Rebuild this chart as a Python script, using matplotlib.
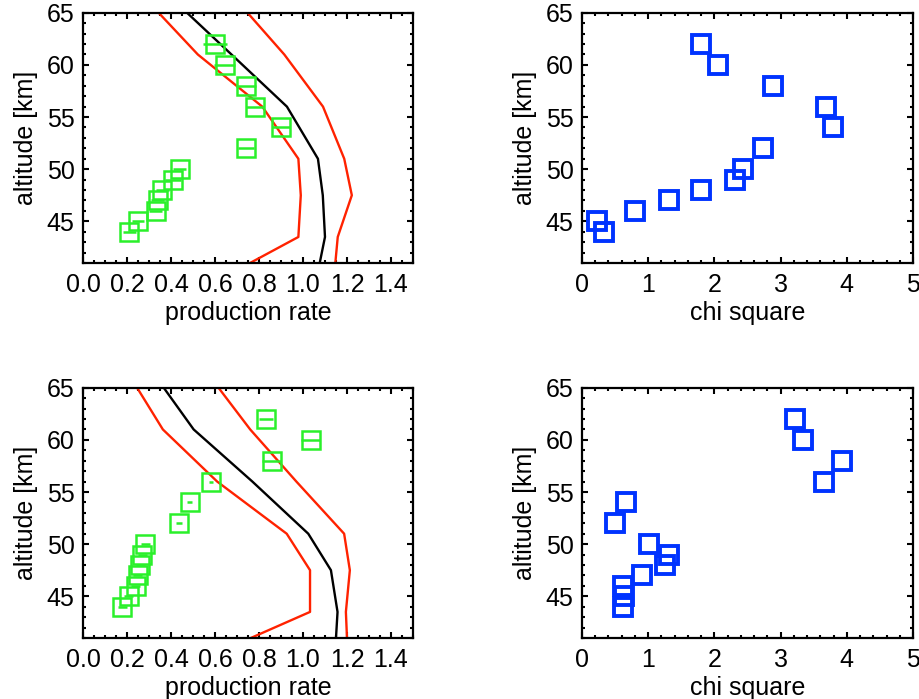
import matplotlib
matplotlib.use("Agg")
import matplotlib.pyplot as plt
from matplotlib.ticker import MultipleLocator
import numpy as np

plt.rcParams['font.family'] = ['Liberation Sans', 'DejaVu Sans']
plt.rcParams['font.size'] = 18

# altitudes of the retrieval points [km]
alt = [44, 45, 46, 47, 48, 49, 50, 52, 54, 56, 58, 60, 62]

# model grid for the profile lines
alt_mod = [41, 43.5, 47.5, 51, 56, 61, 65]

# ---- top row
prod_top = [0.21, 0.25, 0.33, 0.34, 0.36, 0.41, 0.44, 0.74, 0.90, 0.78, 0.74, 0.644, 0.60]
err_top = [0.03, 0.026, 0.03, 0.03, 0.03, 0.035, 0.03, 0.036, 0.043, 0.041, 0.046, 0.048, 0.056]
mod_top = [1.076, 1.10, 1.09, 1.068, 0.927, 0.675, 0.473]
low_top = [0.759, 0.979, 0.99, 0.979, 0.815, 0.522, 0.344]
high_top = [1.147, 1.158, 1.222, 1.1875, 1.091, 0.915, 0.748]
chi_top = [0.33, 0.22, 0.80, 1.31, 1.80, 2.31, 2.43, 2.73, 3.79, 3.69, 2.89, 2.05, 1.80]

# ---- bottom row
prod_bot = [0.178, 0.208, 0.239, 0.249, 0.261, 0.269, 0.284, 0.435, 0.485, 0.582, 0.858, 1.036, 0.831]
err_bot = [0.02, 0.02, 0.02, 0.02, 0.02, 0.02, 0.02, 0.013, 0.011, 0.01, 0.043, 0.043, 0.032]
mod_bot = [1.15, 1.157, 1.127, 1.024, 0.77, 0.503, 0.367]
low_bot = [0.763, 1.032, 1.032, 0.926, 0.61, 0.363, 0.246]
high_bot = [1.2, 1.195, 1.213, 1.187, 0.97, 0.76, 0.616]
chi_bot = [0.62, 0.63, 0.62, 0.90, 1.26, 1.32, 1.01, 0.50, 0.66, 3.66, 3.92, 3.34, 3.21]

verde = '#2af02a'
vermelho = '#ff2200'
azul = '#0033ff'

fig = plt.figure(figsize=(9.2, 6.99), dpi=100)

def estilo(ax, xmaj, xmin):
    ax.set_ylim(41, 65)
    ax.yaxis.set_major_locator(MultipleLocator(5))
    ax.yaxis.set_minor_locator(MultipleLocator(1))
    ax.xaxis.set_major_locator(MultipleLocator(xmaj))
    ax.xaxis.set_minor_locator(MultipleLocator(xmin))
    ax.tick_params(which='both', direction='in', top=True, right=True, width=1.5)
    ax.tick_params(which='major', length=4.5)
    ax.tick_params(which='minor', length=2.2)
    ax.tick_params(axis='x', pad=7)
    ax.tick_params(axis='y', pad=6)
    for s in ax.spines.values():
        s.set_linewidth(1.6)
    ax.set_ylabel('altitude [km]', labelpad=6)

linhas = [(prod_top, err_top, mod_top, low_top, high_top, chi_top, 0.6237),
          (prod_bot, err_bot, mod_bot, low_bot, high_bot, chi_bot, 0.0873)]

for prod, err, mod, low, high, chi, base in linhas:
    # production rate panel
    ax = fig.add_axes([0.0902, base, 0.3587, 0.358])
    ax.plot(low, alt_mod, color=vermelho, lw=1.7)
    ax.plot(high, alt_mod, color=vermelho, lw=1.7)
    ax.plot(mod, alt_mod, color='black', lw=1.7)
    ax.errorbar(prod, alt, xerr=err, fmt='s', ms=12.5, mfc='none', mec=verde,
                mew=1.8, ecolor=verde, elinewidth=1.8, capsize=0)
    ax.set_xlim(0, 1.5)
    estilo(ax, 0.2, 0.05)
    ax.xaxis.set_major_formatter(plt.FormatStrFormatter('%.1f'))
    ax.set_xlabel('production rate', labelpad=3)

    # chi square panel
    ax2 = fig.add_axes([0.6326, base, 0.3598, 0.358])
    ax2.plot(chi, alt, 's', ms=13, mfc='none', mec=azul, mew=2.8, linestyle='none')
    ax2.set_xlim(0, 5)
    estilo(ax2, 1, 0.2)
    ax2.set_xlabel('chi square', labelpad=3)

fig.savefig('out.png', dpi=100)
